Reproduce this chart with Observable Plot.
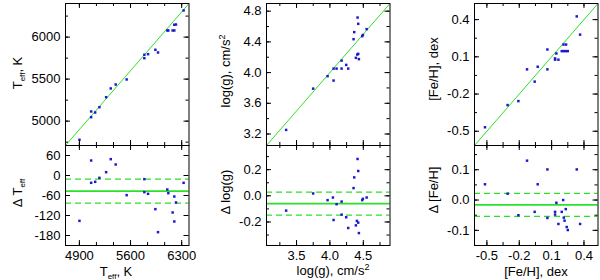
<!DOCTYPE html>
<html><head><meta charset="utf-8">
<script src="https://cdn.jsdelivr.net/npm/d3@7"></script>
<script src="https://cdn.jsdelivr.net/npm/@observablehq/plot@0.6"></script>
<style>
body{margin:0;background:#fff;}
#chart{position:relative;width:600px;height:280px;font-family:"Liberation Sans",Arial,Helvetica,sans-serif;color:#000;overflow:hidden;background:#fff}
#chart svg{position:absolute;overflow:visible;max-width:none}
.t{position:absolute;font-size:13px;white-space:nowrap;line-height:1;left:0;top:0}
.ry{transform:translate(-50%,-50%) rotate(-90deg)}
.cx{transform:translate(-50%,-50%)}
sub{font-size:8px;vertical-align:-3px;line-height:0}
sup{font-size:9px;vertical-align:5px;line-height:0}
</style>
</head><body>
<div id="chart"></div>
<script>
// ---------- data ----------
// Teff panel (top): spectroscopic (x) vs reference (y)
const teffX = [4901,5061,5061,5116,5174,5266,5329,5397,5547,5789,5789,5840,5940,5976,6103,6117,6176,6199,6199,6222,6326];
const teffY = [4778,5115,5047,5103,5166,5285,5389,5436,5496,5790,5749,5797,5849,5817,6079,6079,6079,6079,6147,6150,6317];
// Teff residuals (bottom)
const dTeff = [-136,45,-22,-19,-7,10,49,33,-59,-11,-50,-55,-101,-170,-42,-53,-111,-63,-138,-81,-22];
const dTeffStats = [-47, 36]; // mean, sigma

// log g panel
const loggX = [3.344,3.749,3.965,4.055,4.055,4.10,4.175,4.175,4.244,4.274,4.354,4.364,4.389,4.409,4.424,4.434,4.414,4.424,4.484,4.494,4.55];
const loggY = [3.253,3.791,3.953,3.896,4.052,4.052,4.156,4.052,4.10,4.052,4.435,4.527,4.192,4.235,4.244,4.175,4.717,4.635,4.474,4.49,4.566];
const dLoggX = [3.344,3.749,3.965,4.045,4.055,4.10,4.175,4.175,4.244,4.274,4.354,4.364,4.389,4.404,4.424,4.434,4.414,4.424,4.484,4.494,4.55];
const dLogg = [-0.113,0.018,-0.033,-0.013,-0.185,-0.064,-0.044,-0.144,-0.164,-0.246,0.059,0.141,-0.226,-0.192,-0.205,-0.285,0.282,0.19,-0.033,-0.023,-0.013];
const dLoggStats = [-0.06, 0.088];

// [Fe/H] panel
const fehX = [-0.518,-0.308,-0.208,-0.128,-0.057,-0.029,0.061,0.061,0.132,0.132,0.144,0.163,0.194,0.213,0.231,0.25,0.21,0.234,0.333,0.364];
const fehY = [-0.468,-0.289,-0.257,-0.001,-0.1,0.02,0.159,-0.001,0.087,0.077,0.127,0.077,0.146,0.146,0.146,0.146,0.199,0.199,0.426,0.279];
const dFehX = [-0.518,-0.308,-0.208,-0.128,-0.057,-0.029,0.061,0.061,0.132,0.132,0.144,0.163,0.194,0.213,0.22,0.24,0.25,0.207,0.231,0.333,0.364];
const dFeh = [0.052,0.021,-0.05,0.13,-0.039,0.052,0.101,-0.059,-0.039,-0.048,-0.009,-0.079,-0.039,-0.058,-0.068,-0.089,-0.099,0.0,-0.03,0.101,-0.079];
const dFehStats = [-0.016, 0.038];

// axis domains and tick labels
const teffDomain = [4710, 6400];
const dTeffDomain = [-210, 90];
const loggDomain = [3.05, 4.9];
const dLoggDomain = [-0.38, 0.385];
const fehDomain = [-0.615, 0.53];
const dFehDomain = [-0.15, 0.18];

const teffXTicks = [4900, 5600, 6300];
const teffYTicks = [5000, 5500, 6000];
const dTeffTicks = [60, 0, -60, -120, -180];
const loggXTicks = [3.5, 4.0, 4.5];
const loggYTicks = [3.2, 3.6, 4.0, 4.4, 4.8];
const dLoggTicks = [0.2, 0.0, -0.2];
const fehTicks = [-0.5, -0.2, 0.1, 0.4];
const dFehTicks = [0.1, 0.0, -0.1];

// ---------- drawing ----------
const GREEN = "#2be02b";
const BLUE = "#1a1ad0";
const chart = document.getElementById("chart");

function stepTicks(dom, anchor, step) {
  const lo = Math.min(...dom), hi = Math.max(...dom), out = [];
  if (!step) return out;
  for (let k = Math.ceil((lo - anchor) / step - 1e-9); ; k++) {
    const v = anchor + k * step;
    if (v > hi + 1e-9) break;
    out.push(v);
  }
  return out;
}

function panel(o) {
  const mL = 45, mR = 6, mT = 6, mB = o.xLabels ? 24 : 6;
  const W = o.W, H = o.H;
  const xMaj = o.xMajor, yMaj = o.yMajor;
  const xMin = stepTicks(o.xDomain, xMaj[0], o.xMinorStep);
  const yMin = stepTicks(o.yDomain, yMaj[0], o.yMinorStep);
  const tk = (vals, ch, len, side) => {
    const opt = {stroke: "black", strokeWidth: 1};
    opt[ch] = d => d;
    if (ch === "x") { if (side === "b") opt.insetTop = H - len; else opt.insetBottom = H - len; return Plot.tickX(vals, opt); }
    if (side === "l") opt.insetRight = W - len; else opt.insetLeft = W - len;
    return Plot.tickY(vals, opt);
  };
  const svg = Plot.plot({
    width: W + mL + mR, height: H + mT + mB,
    marginLeft: mL, marginRight: mR, marginTop: mT, marginBottom: mB,
    x: {domain: o.xDomain, axis: null}, y: {domain: o.yDomain, axis: null},
    style: {background: "transparent", fontFamily: "'Liberation Sans', Arial, Helvetica, sans-serif", fontSize: "13px", overflow: "visible", color: "#000"},
    marks: [
      ...o.marks,
      tk(xMin, "x", 3, "b"), tk(xMin, "x", 3, "t"),
      tk(xMaj, "x", 5, "b"), tk(xMaj, "x", 5, "t"),
      tk(yMin, "y", 3, "l"), tk(yMin, "y", 3, "r"),
      tk(yMaj, "y", 5, "l"), tk(yMaj, "y", 5, "r"),
      Plot.frame({stroke: "black", strokeWidth: 1}),
      Plot.axisY({ticks: yMaj, tickSize: 0, tickPadding: 5, tickFormat: o.yFmt, label: null, fontSize: 13}),
      o.xLabels ? Plot.axisX({ticks: xMaj, tickSize: 0, tickPadding: 5, tickFormat: o.xFmt, label: null, fontSize: 13}) : null
    ]
  });
  svg.style.left = (o.L - mL) + "px";
  svg.style.top = (o.T - mT) + "px";
  chart.appendChild(svg);
}

function label(html, x, y, rot) {
  const d = document.createElement("div");
  d.className = "t " + (rot ? "ry" : "cx");
  d.innerHTML = html;
  d.style.left = x + "px";
  d.style.top = y + "px";
  chart.appendChild(d);
}

const zipPts = (xs, ys) => xs.map((x, i) => ({x, y: ys[i]}));
const pts = data => Plot.dot(data, {x: "x", y: "y", symbol: "square", r: 1.4, fill: BLUE});
const diag = dom => Plot.line(dom, {x: d => d, y: d => d, stroke: GREEN, strokeWidth: 1, clip: true});
const meanLines = s => [
  Plot.ruleY([s[0]], {stroke: GREEN, strokeWidth: 1.8}),
  Plot.ruleY([s[0] - s[1], s[0] + s[1]], {stroke: GREEN, strokeWidth: 1.2, strokeDasharray: "6,4"})
];
const intFmt = d => String(Math.round(d));
const f1 = d => (Math.abs(d) < 1e-9 ? 0 : d).toFixed(1);

const TOP = 3, MID = 145, BOT = 245;
const cols = [65, 266, 474], W = 123.5;

// Teff
panel({L: cols[0], T: TOP, W, H: MID - TOP, xDomain: teffDomain, yDomain: teffDomain,
  xMajor: teffXTicks, xMinorStep: 700 / 3, yMajor: teffYTicks, yMinorStep: 250, yFmt: intFmt,
  marks: [diag(teffDomain), pts(zipPts(teffX, teffY))]});
panel({L: cols[0], T: MID, W, H: BOT - MID, xDomain: teffDomain, yDomain: dTeffDomain, xLabels: true,
  xMajor: teffXTicks, xMinorStep: 700 / 3, yMajor: dTeffTicks, yMinorStep: 0, yFmt: intFmt, xFmt: intFmt,
  marks: [...meanLines(dTeffStats), pts(zipPts(teffX, dTeff))]});

// log g
panel({L: cols[1], T: TOP, W, H: MID - TOP, xDomain: loggDomain, yDomain: loggDomain,
  xMajor: loggXTicks, xMinorStep: 0.25, yMajor: loggYTicks, yMinorStep: 0.2, yFmt: f1,
  marks: [diag(loggDomain), pts(zipPts(loggX, loggY))]});
panel({L: cols[1], T: MID, W, H: BOT - MID, xDomain: loggDomain, yDomain: dLoggDomain, xLabels: true,
  xMajor: loggXTicks, xMinorStep: 0.25, yMajor: dLoggTicks, yMinorStep: 0.1, yFmt: f1, xFmt: f1,
  marks: [...meanLines(dLoggStats), pts(zipPts(dLoggX, dLogg))]});

// [Fe/H]
panel({L: cols[2], T: TOP, W, H: MID - TOP, xDomain: fehDomain, yDomain: fehDomain,
  xMajor: fehTicks, xMinorStep: 0.15, yMajor: fehTicks, yMinorStep: 0.15, yFmt: f1,
  marks: [diag(fehDomain), pts(zipPts(fehX, fehY))]});
panel({L: cols[2], T: MID, W, H: BOT - MID, xDomain: fehDomain, yDomain: dFehDomain, xLabels: true,
  xMajor: fehTicks, xMinorStep: 0.15, yMajor: dFehTicks, yMinorStep: 0.05, yFmt: f1, xFmt: f1,
  marks: [...meanLines(dFehStats), pts(zipPts(dFehX, dFeh))]});

// axis titles
label("T<sub>eff</sub>, K", 17, 73, true);
label("Δ T<sub>eff</sub>", 17, 193, true);
label("log(g), cm/s<sup>2</sup>", 225, 71, true);
label("Δ log(g)", 225, 192, true);
label("[Fe/H], dex", 433, 69, true);
label("Δ [Fe/H]", 433, 190, true);
label("T<sub>eff</sub>, K", 116, 271, false);
label("log(g), cm/s<sup>2</sup>", 333, 270, false);
label("[Fe/H], dex", 536, 271, false);
</script>
</body></html>
